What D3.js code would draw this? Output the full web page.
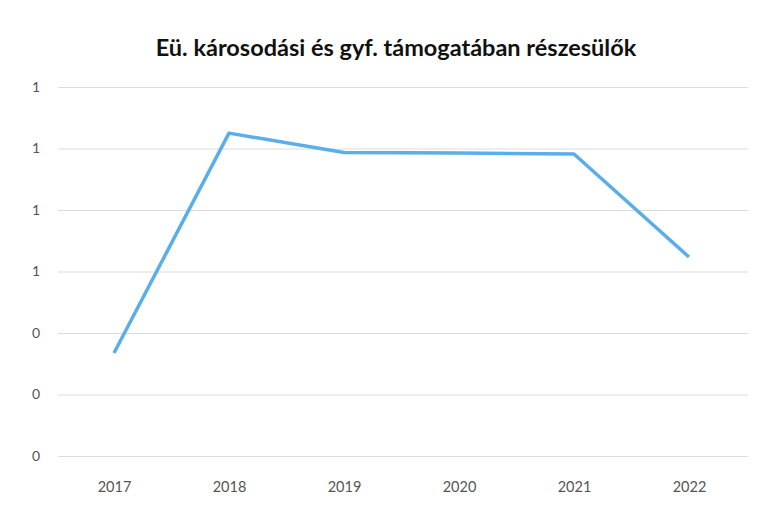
<!DOCTYPE html>
<html><head><meta charset="utf-8">
<script src="https://cdn.jsdelivr.net/npm/d3@7"></script>
<style>body{margin:0;background:#fff}svg{display:block}</style>
</head><body>
<script>
const title = "Eü. károsodási és gyf. támogatában részesülők";
const years = ["2017","2018","2019","2020","2021","2022"];
const values = [0.335, 1.05, 0.987, 0.985, 0.982, 0.647];
const yTicks = [0, 0.2, 0.4, 0.6, 0.8, 1.0, 1.2];

const W = 764, H = 531;
const svg = d3.select("body").append("svg").attr("width", W).attr("height", H);
svg.append("rect").attr("width", W).attr("height", H).attr("fill", "#fff");

const x = d3.scalePoint().domain(years).range([114, 689]);
const y = d3.scaleLinear().domain([0, 1.2]).range([456, 87]);

svg.append("text").attr("x", 396).attr("y", 56).attr("text-anchor", "middle")
  .attr("font-family", "Lato, 'Open Sans', sans-serif").attr("font-weight", "bold")
  .attr("font-size", 23.5).attr("fill", "#111").text(title);

const gy = svg.append("g").attr("transform", "translate(58,0)")
  .call(d3.axisLeft(y).tickValues(yTicks).tickFormat(d3.format(".0f")).tickSize(-690).tickPadding(18));
gy.select(".domain").remove();
gy.selectAll(".tick line").attr("stroke", "#dcdcdc").attr("stroke-width", 1);
gy.selectAll(".tick text").attr("font-family", "Lato, 'Open Sans', sans-serif").attr("font-size", 14).attr("fill", "#555");

const gx = svg.append("g").attr("transform", "translate(0,456)")
  .call(d3.axisBottom(x).tickSize(0).tickPadding(26));
gx.select(".domain").remove();
gx.selectAll(".tick text").attr("font-family", "Lato, 'Open Sans', sans-serif").attr("font-size", 14.5).attr("fill", "#555");

const line = d3.line().x((d, i) => x(years[i])).y(d => y(d));
svg.append("path").datum(values).attr("d", line).attr("fill", "none")
  .attr("stroke", "#5aaee9").attr("stroke-width", 3.5).attr("stroke-linejoin", "round");
</script>
</body></html>
